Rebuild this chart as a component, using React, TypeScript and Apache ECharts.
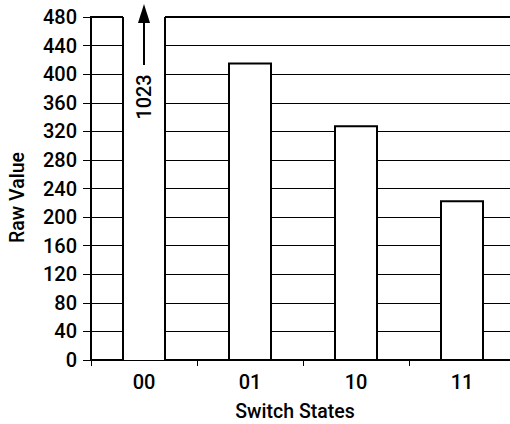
import React, { useEffect, useRef } from "react";
import * as echarts from "echarts";

const categories = ["00", "01", "10", "11"];
const rawValues = [1023, 415, 327, 222];
const yMin = 0;
const yMax = 480;
const yInterval = 40;
const xAxisTitle = "Switch States";
const yAxisTitle = "Raw Value";

const FONT = 'Roboto, "Liberation Sans", sans-serif';
const WEIGHT = 500;

export default function App() {
  const ref = useRef<HTMLDivElement>(null);

  useEffect(() => {
    if (!ref.current) return;
    const chart = echarts.init(ref.current, null, { renderer: "svg" });

    const renderItem = (params: any, api: any) => {
      const idx = api.value(0);
      const val = api.value(1);
      const clipped = val > yMax;
      const shown = Math.min(val, yMax);
      const top = api.coord([idx, shown]);
      const base = api.coord([idx, yMin]);
      const bw = api.size([1, 0])[0] * 0.4;
      const x0 = Math.round(top[0] - bw / 2);
      const x1 = Math.round(top[0] + bw / 2);
      const cx = top[0];
      const children: any[] = [];
      if (!clipped) {
        children.push({
          type: "rect",
          shape: { x: x0, y: top[1], width: x1 - x0, height: base[1] - top[1] },
          style: { fill: "#fff", stroke: "#000", lineWidth: 2 },
        });
      } else {
        children.push({
          type: "rect",
          shape: { x: x0, y: top[1] - 3, width: x1 - x0, height: base[1] - top[1] + 3 },
          style: { fill: "#fff", stroke: null },
        });
        children.push({
          type: "line",
          shape: { x1: x0, y1: top[1], x2: x0, y2: base[1] },
          style: { stroke: "#000", lineWidth: 2 },
        });
        children.push({
          type: "line",
          shape: { x1: x1, y1: top[1], x2: x1, y2: base[1] },
          style: { stroke: "#000", lineWidth: 2 },
        });
        children.push({
          type: "line",
          shape: { x1: cx, y1: top[1] + 48, x2: cx, y2: top[1] + 4 },
          style: { stroke: "#000", lineWidth: 2 },
        });
        children.push({
          type: "polygon",
          shape: { points: [[cx, top[1] - 13], [cx - 6, top[1] + 6], [cx + 6, top[1] + 6]] },
          style: { fill: "#000" },
        });
        children.push({
          type: "text",
          x: cx,
          y: top[1] + 80,
          rotation: Math.PI / 2,
          style: {
            text: String(val),
            align: "center",
            verticalAlign: "middle",
            fill: "#000",
            font: `${WEIGHT} 20px ${FONT}`,
          },
        });
      }
      return { type: "group", children };
    };

    chart.setOption({
      animation: false,
      backgroundColor: "#fff",
      grid: {
        left: 91,
        top: 17,
        right: -5,
        bottom: 64,
        outerBoundsMode: "none",
        containLabel: false,
        show: true,
        borderColor: "#000",
        borderWidth: 2,
        backgroundColor: "transparent",
      },
      xAxis: {
        type: "category",
        data: categories,
        axisLine: { lineStyle: { color: "#000", width: 2 } },
        axisTick: { show: true, length: 6, lineStyle: { color: "#000", width: 1 } },
        axisLabel: { color: "#000", fontFamily: FONT, fontWeight: WEIGHT, fontSize: 20, margin: 12 },
        splitLine: { show: false },
        name: xAxisTitle,
        nameLocation: "middle",
        nameGap: 41,
        nameTextStyle: {
          color: "#000",
          fontFamily: FONT,
          fontWeight: WEIGHT,
          fontSize: 19.5,
          padding: [0, 16, 0, 0],
        },
      },
      yAxis: {
        type: "value",
        min: yMin,
        max: yMax,
        interval: yInterval,
        axisLine: { show: true, lineStyle: { color: "#000", width: 2 } },
        axisTick: { show: true, length: 8, lineStyle: { color: "#000", width: 1 } },
        axisLabel: { color: "#000", fontFamily: FONT, fontWeight: WEIGHT, fontSize: 20, margin: 14 },
        splitLine: { show: true, lineStyle: { color: "#000", width: 1 } },
        name: yAxisTitle,
        nameLocation: "middle",
        nameRotate: 90,
        nameGap: 64,
        nameTextStyle: {
          color: "#000",
          fontFamily: FONT,
          fontWeight: WEIGHT,
          fontSize: 19.5,
          padding: [0, 18, 0, 0],
        },
      },
      series: [
        {
          type: "custom",
          data: rawValues.map((v, i) => [i, v]),
          encode: { x: 0, y: 1 },
          renderItem,
        },
      ],
    });

    return () => chart.dispose();
  }, []);

  return <div ref={ref} style={{ width: 510, height: 424, position: "absolute", left: 0, top: 0 }} />;
}
